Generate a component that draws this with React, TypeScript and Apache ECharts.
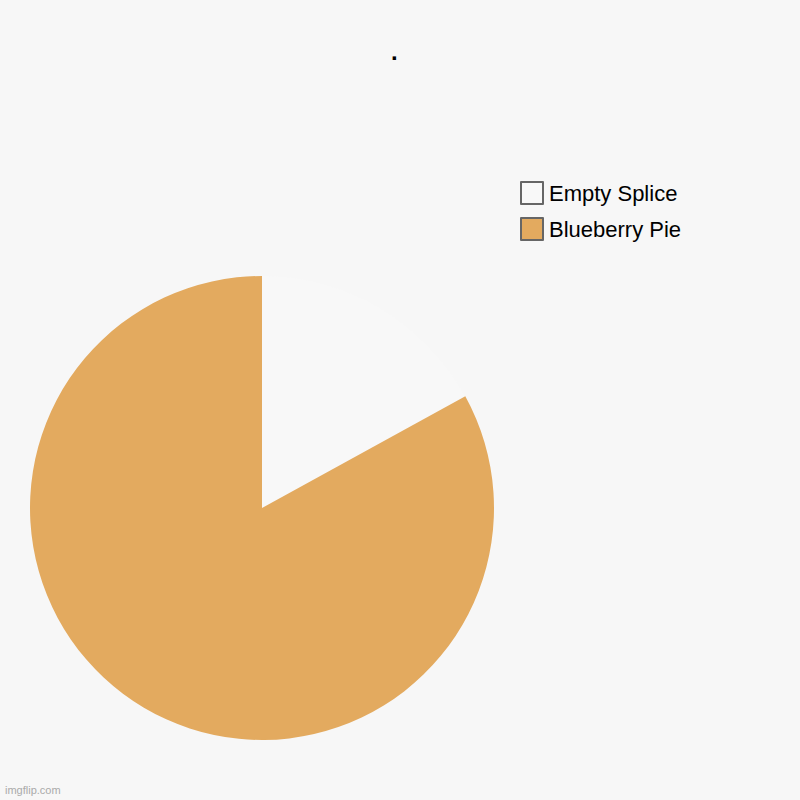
import React, { useEffect, useRef } from 'react';
import * as echarts from 'echarts';

const sliceNames = ['Empty Splice', 'Blueberry Pie'];
const sliceValues = [17, 83];
const sliceColors = ['#f8f8f8', '#e3aa5f'];
const chartTitle = '.';
const watermark = 'imgflip.com';

const App: React.FC = () => {
    const chartRef = useRef<HTMLDivElement>(null);

    useEffect(() => {
        if (!chartRef.current) return;
        const chart = echarts.init(chartRef.current, undefined, { renderer: 'svg' });

        chart.setOption({
            animation: false,
            backgroundColor: '#f7f7f7',
            textStyle: { fontFamily: '"Liberation Sans", Arial, sans-serif' },
            title: {
                text: chartTitle,
                left: 386,
                top: 34,
                textStyle: { fontSize: 24, fontWeight: 'bold', color: '#000' },
            },
            legend: {
                data: sliceNames,
                orient: 'vertical',
                left: 515,
                top: 176,
                icon: 'rect',
                itemWidth: 22,
                itemHeight: 22,
                itemGap: 12,
                itemStyle: { borderColor: '#666', borderWidth: 2 },
                textStyle: { fontSize: 22, color: '#000', padding: [0, 0, 0, 1] },
                selectedMode: false,
            },
            graphic: [
                {
                    type: 'text',
                    left: 5,
                    top: 784,
                    style: {
                        text: watermark,
                        fontSize: 11,
                        fill: '#aaa',
                        fontFamily: '"Liberation Sans", Arial, sans-serif',
                    },
                },
            ],
            series: [
                {
                    type: 'pie',
                    center: [262, 508],
                    radius: 232,
                    startAngle: 90,
                    clockwise: true,
                    label: { show: false },
                    labelLine: { show: false },
                    emphasis: { disabled: true },
                    data: sliceNames.map((name, i) => ({
                        name,
                        value: sliceValues[i],
                        itemStyle: { color: sliceColors[i] },
                    })),
                },
            ],
        });

        return () => {
            chart.dispose();
        };
    }, []);

    return (
        <div
            ref={chartRef}
            style={{ position: 'fixed', left: 0, top: 0, width: 800, height: 800 }}
        />
    );
};

export default App;
